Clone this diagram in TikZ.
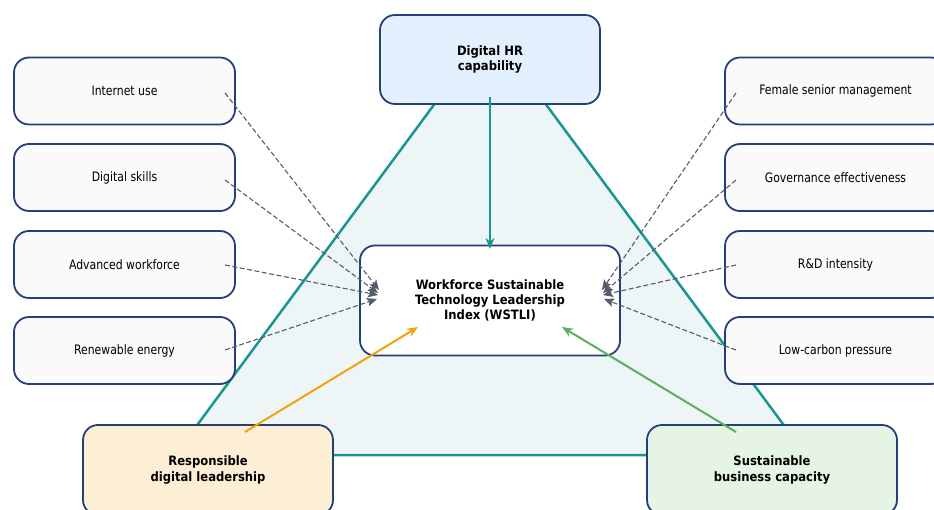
\documentclass[tikz,border=0pt]{standalone}
\usepackage{fontspec}
\setmainfont{DejaVu Sans Condensed}
\newfontfamily\sidefont[FakeStretch=0.93]{DejaVu Sans Condensed}
\usetikzlibrary{arrows.meta}
\definecolor{navy}{HTML}{243F7A}
\definecolor{teal2}{HTML}{1A9690}
\definecolor{trifill}{HTML}{EEF5F7}
\definecolor{dashc}{HTML}{555C6B}
\definecolor{orng}{HTML}{F0A30A}
\definecolor{grn}{HTML}{5DAE5F}
\definecolor{topfill}{HTML}{E3F0FD}
\definecolor{lfill}{HTML}{FDEFD6}
\definecolor{rfill}{HTML}{E6F4E5}
\definecolor{sidefill}{HTML}{FAFAFA}
\tikzset{
  box/.style={draw=navy, line width=1.8pt, rounded corners=15pt, align=center, inner sep=0pt},
  sidebox/.style={box, fill=sidefill, minimum width=221pt, minimum height=67pt, font=\sidefont\fontsize{13}{15}\selectfont},
  keybox/.style={box, font=\bfseries\fontsize{12.9}{15.4}\selectfont},
  dasharrow/.style={draw=dashc, line width=1.1pt, dash pattern=on 5pt off 2.5pt, -{Stealth[length=10pt,width=8.5pt,inset=2pt]}},
  solidarrow/.style={line width=2pt, -{Stealth[length=11pt,width=9pt]}}
}
\begin{document}
\begin{tikzpicture}[x=1pt,y=-1pt]
\useasboundingbox (0,0) rectangle (934,510);
% triangle
\draw[draw=teal2, fill=trifill, line width=2.5pt, line join=miter] (490,29) -- (806,455) -- (175,455) -- cycle;
% boxes
\node[keybox, fill=topfill, minimum width=220pt, minimum height=89pt] (hr) at (490,59.5) {Digital HR\\capability};
\node[keybox, fill=white, minimum width=260pt, minimum height=110pt] (w) at (490,300.5) {Workforce Sustainable\\Technology Leadership\\Index (WSTLI)};
\node[keybox, fill=lfill, minimum width=250pt, minimum height=90pt] (rdl) at (208,470) {Responsible\\digital leadership};
\node[keybox, fill=rfill, minimum width=250pt, minimum height=90pt] (sbc) at (772,470) {Sustainable\\business capacity};
\node[sidebox] (l1) at (124.5,91) {Internet use};
\node[sidebox] (l2) at (124.5,177.5) {Digital skills};
\node[sidebox] (l3) at (124.5,264.5) {Advanced workforce};
\node[sidebox] (l4) at (124.5,350.5) {Renewable energy};
\node[sidebox] (r1) at (835.5,91) {Female senior management};
\node[sidebox] (r2) at (835.5,177.5) {Governance effectiveness};
\node[sidebox] (r3) at (835.5,264.5) {R\&D intensity};
\node[sidebox] (r4) at (835.5,350.5) {Low-carbon pressure};
% anchor coordinates
\coordinate (l1s) at (225,93);
\coordinate (l2s) at (225,180);
\coordinate (l3s) at (225,265);
\coordinate (l4s) at (225,350);
\coordinate (r1s) at (736,93);
\coordinate (r2s) at (736,180);
\coordinate (r3s) at (736,265);
\coordinate (r4s) at (736,350);
\coordinate (lt1) at (379,290);
\coordinate (lt2) at (378,293);
\coordinate (lt3) at (378,295);
\coordinate (lt4) at (377,299);
\coordinate (rt1) at (602,290);
\coordinate (rt2) at (603,293);
\coordinate (rt3) at (603,295);
\coordinate (rt4) at (604,299);
\coordinate (hrs) at (490,97);
\coordinate (hrt) at (490,249);
\coordinate (rdls) at (245,432);
\coordinate (rdlt) at (418,327);
\coordinate (sbcs) at (736,432);
\coordinate (sbct) at (562,327);
% dashed arrows
\draw[dasharrow] (l1s) -- (lt1);
\draw[dasharrow] (l2s) -- (lt2);
\draw[dasharrow] (l3s) -- (lt3);
\draw[dasharrow] (l4s) -- (lt4);
\draw[dasharrow] (r1s) -- (rt1);
\draw[dasharrow] (r2s) -- (rt2);
\draw[dasharrow] (r3s) -- (rt3);
\draw[dasharrow] (r4s) -- (rt4);
% solid arrows
\draw[solidarrow, draw=teal2, fill=teal2] (hrs) -- (hrt);
\draw[solidarrow, draw=orng, fill=orng] (rdls) -- (rdlt);
\draw[solidarrow, draw=grn, fill=grn] (sbcs) -- (sbct);
\end{tikzpicture}
\end{document}
